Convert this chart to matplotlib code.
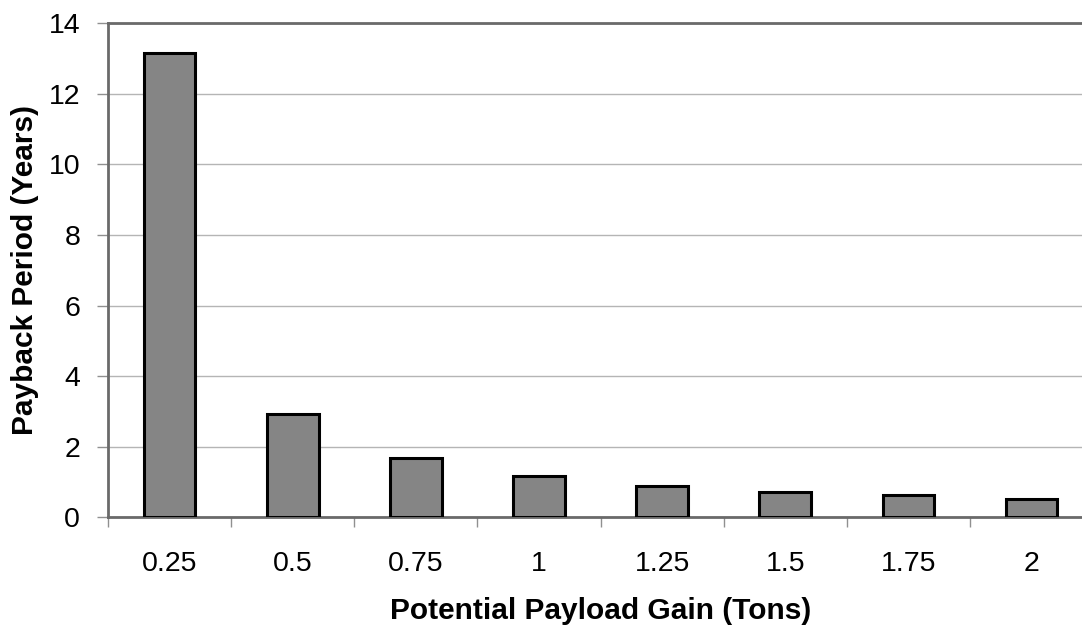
import numpy as np
import matplotlib.pyplot as plt

plt.rcParams['font.family'] = ['Liberation Sans', 'DejaVu Sans']

payload = ['0.25', '0.5', '0.75', '1', '1.25', '1.5', '1.75', '2']
payback = [13.17, 2.93, 1.68, 1.16, 0.90, 0.72, 0.64, 0.51]

fig = plt.figure(figsize=(10.82, 6.32), dpi=100)
ax = fig.add_axes([0.0998, 0.1815, 0.9105, 0.7816])

x = np.arange(len(payload))
ax.bar(x, payback, width=0.42, color='#858585', edgecolor='black', linewidth=2.2, zorder=3)

ax.set_xlim(-0.5, len(payload) - 0.5)
ax.set_ylim(0, 14)
ax.set_yticks(range(0, 15, 2))
ax.yaxis.grid(True, color='#b5b5b5', linewidth=1)
ax.set_axisbelow(True)

# labels sit under the bars, tick marks sit between categories
ax.set_xticks(x)
ax.set_xticklabels(payload)
ax.set_xticks(np.arange(len(payload) + 1) - 0.5, minor=True)
ax.tick_params(axis='x', which='major', length=0, pad=24, labelsize=20.5)
ax.tick_params(axis='x', which='minor', length=7, color='#909090', width=1)
ax.tick_params(axis='y', length=8, color='#909090', width=1, pad=12, labelsize=20.5)

for side in ['top', 'left', 'bottom']:
    ax.spines[side].set_color('#6a6a6a')
    ax.spines[side].set_linewidth(2)
ax.spines['right'].set_visible(False)

ax.set_xlabel('Potential Payload Gain (Tons)', fontsize=21.5, fontweight='bold', labelpad=15)
ax.set_ylabel('Payback Period (Years)', fontsize=21.5, fontweight='bold', labelpad=7)

fig.savefig('out.png', dpi=100)
